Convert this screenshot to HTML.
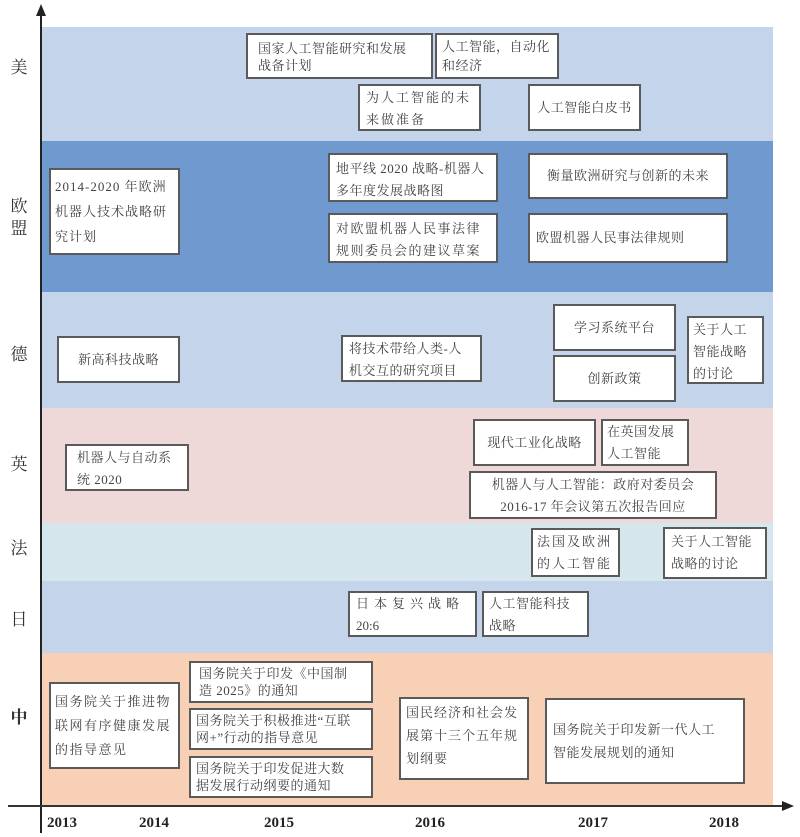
<!DOCTYPE html>
<html><head><meta charset="utf-8">
<style>
html,body{margin:0;padding:0;background:#fff;}
#c{position:relative;width:800px;height:837px;overflow:hidden;font-family:"Liberation Serif","Noto Serif CJK SC",serif;}
.band{position:absolute;left:42px;width:731px;}
.b{position:absolute;background:#fff;border:2px solid #5a5a5a;box-sizing:border-box;font-size:13px;color:#444;line-height:22px;padding:3px 6px;overflow:hidden;white-space:nowrap;letter-spacing:0.5px;}
.c{display:flex;align-items:center;justify-content:center;}
.lab{position:absolute;left:10px;width:18px;text-align:center;font-size:17px;color:#333;font-family:"Liberation Serif","Noto Serif CJK SC",serif;line-height:22px;}
.yr{position:absolute;top:815px;font-weight:bold;font-size:15px;color:#222;font-family:"Liberation Serif",serif;}
</style></head><body>
<div id="c">
<div class="band" style="top:27px;height:114px;background:#c4d4ea;"></div>
<div class="band" style="top:141px;height:151px;background:#7099cf;"></div>
<div class="band" style="top:292px;height:116px;background:#c4d4ea;"></div>
<div class="band" style="top:408px;height:115px;background:#efd8d8;"></div>
<div class="band" style="top:523px;height:58px;background:#d5e6ec;"></div>
<div class="band" style="top:581px;height:72px;background:#c4d4ea;"></div>
<div class="band" style="top:653px;height:153px;background:#f8d0b6;"></div>

<svg style="position:absolute;left:0;top:0" width="800" height="837">
<line x1="41" y1="14" x2="41" y2="833" stroke="#222" stroke-width="2"/>
<polygon points="41,4 36,16 46,16" fill="#222"/>
<line x1="8" y1="806" x2="784" y2="806" stroke="#333" stroke-width="2"/>
<polygon points="794,806 782,801 782,811" fill="#222"/>
</svg>

<div class="lab" style="top:57px">美</div>
<div class="lab" style="top:196px">欧<br>盟</div>
<div class="lab" style="top:344px">德</div>
<div class="lab" style="top:454px">英</div>
<div class="lab" style="top:538px">法</div>
<div class="lab" style="top:609px">日</div>
<div class="lab" style="top:707px;font-weight:bold">中</div>

<div class="yr" style="left:47px">2013</div>
<div class="yr" style="left:139px">2014</div>
<div class="yr" style="left:264px">2015</div>
<div class="yr" style="left:415px">2016</div>
<div class="yr" style="left:578px">2017</div>
<div class="yr" style="left:709px">2018</div>

<!-- 美 -->
<div class="b" style="left:246px;top:33px;width:187px;height:46px;line-height:17px;padding:5px 10px">国家人工智能研究和发展<br>战备计划</div>
<div class="b" style="left:435px;top:33px;width:124px;height:46px;line-height:19px;padding:2px 5px">人工智能，自动化<br>和经济</div>
<div class="b" style="left:358px;top:84px;width:123px;height:47px;padding:1px 6px;letter-spacing:2px">为人工智能的未<br>来做准备</div>
<div class="b c" style="left:528px;top:84px;width:113px;height:47px">人工智能白皮书</div>
<!-- 欧盟 -->
<div class="b" style="left:49px;top:168px;width:131px;height:87px;line-height:25px;padding:4px 4px;letter-spacing:1px">2014-2020 年欧洲<br>机器人技术战略研<br>究计划</div>
<div class="b" style="left:328px;top:153px;width:170px;height:49px">地平线 2020 战略-机器人<br>多年度发展战略图</div>
<div class="b c" style="left:528px;top:153px;width:200px;height:46px">衡量欧洲研究与创新的未来</div>
<div class="b" style="left:328px;top:213px;width:170px;height:50px;letter-spacing:1.5px">对欧盟机器人民事法律<br>规则委员会的建议草案</div>
<div class="b c" style="left:528px;top:213px;width:200px;height:50px;justify-content:flex-start">欧盟机器人民事法律规则</div>
<!-- 德 -->
<div class="b c" style="left:57px;top:336px;width:123px;height:47px">新高科技战略</div>
<div class="b" style="left:341px;top:335px;width:141px;height:47px;padding:1px 6px">将技术带给人类-人<br>机交互的研究项目</div>
<div class="b c" style="left:553px;top:304px;width:123px;height:47px">学习系统平台</div>
<div class="b c" style="left:553px;top:355px;width:123px;height:47px">创新政策</div>
<div class="b" style="left:687px;top:316px;width:77px;height:68px;padding:1px 4px">关于人工<br>智能战略<br>的讨论</div>
<!-- 英 -->
<div class="b" style="left:65px;top:444px;width:124px;height:47px;padding:1px 10px">机器人与自动系<br>统 2020</div>
<div class="b c" style="left:473px;top:419px;width:123px;height:47px">现代工业化战略</div>
<div class="b" style="left:601px;top:419px;width:88px;height:47px;padding:0 4px">在英国发展<br>人工智能</div>
<div class="b" style="left:469px;top:471px;width:248px;height:48px;text-align:center;padding:1px 4px">机器人与人工智能：政府对委员会<br>2016-17 年会议第五次报告回应</div>
<!-- 法 -->
<div class="b" style="left:531px;top:528px;width:89px;height:49px;padding:1px 4px;letter-spacing:2px">法国及欧洲<br>的人工智能</div>
<div class="b" style="left:663px;top:527px;width:104px;height:52px;padding:2px 6px">关于人工智能<br>战略的讨论</div>
<!-- 日 -->
<div class="b" style="left:348px;top:591px;width:129px;height:46px;padding:0 6px;letter-spacing:5px">日本复兴战略<br><span style="letter-spacing:0">20:6</span></div>
<div class="b" style="left:482px;top:591px;width:107px;height:46px;padding:0 5px">人工智能科技<br>战略</div>
<!-- 中 -->
<div class="b" style="left:49px;top:682px;width:131px;height:87px;line-height:24px;padding:6px 4px;letter-spacing:1.5px">国务院关于推进物<br>联网有序健康发展<br>的指导意见</div>
<div class="b" style="left:189px;top:661px;width:184px;height:42px;line-height:17px;padding:2px 8px">国务院关于印发《中国制<br>造 2025》的通知</div>
<div class="b" style="left:189px;top:708px;width:184px;height:42px;line-height:17px;padding:2px 5px">国务院关于积极推进“互联<br>网+”行动的指导意见</div>
<div class="b" style="left:189px;top:756px;width:184px;height:42px;line-height:17px;padding:2px 5px">国务院关于印发促进大数<br>据发展行动纲要的通知</div>
<div class="b" style="left:399px;top:697px;width:130px;height:83px;line-height:23px;padding:2px 5px;letter-spacing:1px">国民经济和社会发<br>展第十三个五年规<br>划纲要</div>
<div class="b" style="left:545px;top:698px;width:200px;height:86px;line-height:23px;padding:18px 6px">国务院关于印发新一代人工<br>智能发展规划的通知</div>
</div>
</body></html>
